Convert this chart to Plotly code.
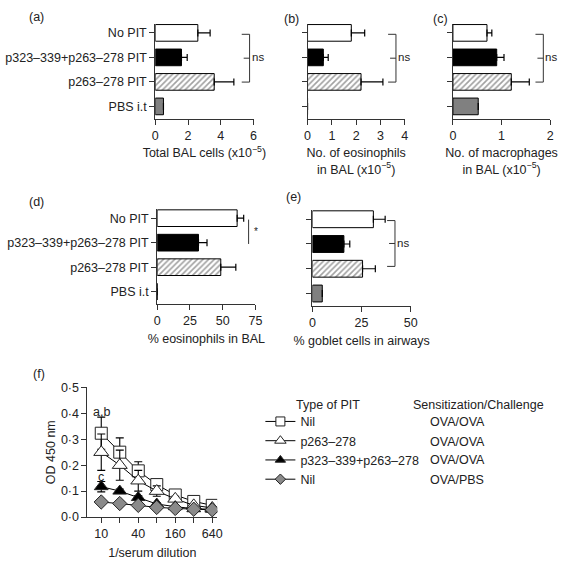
import plotly.graph_objects as go

W, H = 568, 564
FONT = "Liberation Sans, Arial, sans-serif"
TXT = "#222"

# ---------------- data ----------------
groups = ["No PIT", "p323–339+p263–278 PIT", "p263–278 PIT", "PBS i.t"]
group_pos = [3, 2, 1, 0]

total_bal = [2.6, 1.6, 3.6, 0.5]
total_bal_err = [0.75, 0.35, 1.2, None]
eos_no = [1.8, 0.65, 2.2, 0.0]
eos_no_err = [0.55, 0.2, 0.9, None]
mac_no = [0.7, 0.9, 1.2, 0.52]
mac_no_err = [0.1, 0.15, 0.37, None]
eos_pct = [61, 31.5, 48.5, 0]
eos_pct_err = [5, 6.5, 11.5, None]
goblet_pct = [31, 16, 25.5, 5]
goblet_pct_err = [6, 3, 6.5, None]

dilution = [10, 20, 40, 80, 160, 320, 640]
dilution_ticktext = ["10", "", "40", "", "160", "", "640"]
od_nil = [0.323, 0.25, 0.178, 0.125, 0.085, 0.06, 0.045]
od_nil_err = [0.062, 0.055, 0.035, 0.015, 0.008, 0.005, 0.004]
od_p263 = [0.25, 0.20, 0.14, 0.10, 0.07, 0.045, 0.035]
od_p263_err = [0.07, 0.058, 0.04, 0.02, 0.01, 0.006, 0.004]
od_p323 = [0.117, 0.10, 0.075, 0.05, 0.04, 0.032, 0.03]
od_p323_err = [0.02, 0.008, 0.008, 0.005, 0.004, 0.003, 0.003]
od_pbs = [0.058, 0.052, 0.045, 0.037, 0.033, 0.03, 0.028]
od_pbs_err = [0.004, 0.003, 0.003, 0.003, 0.002, 0.002, 0.002]
od_ticks = [0, 0.1, 0.2, 0.3, 0.4, 0.5]
od_ticktext = ["0·0", "0·1", "0·2", "0·3", "0·4", "0·5"]

series_f = [
    ("Nil", od_nil, od_nil_err, "square", "white", 12, "OVA/OVA"),
    ("p263–278", od_p263, od_p263_err, "triangle-up", "white", 13, "OVA/OVA"),
    ("p323–339+p263–278", od_p323, od_p323_err, "triangle-up", "black", 12, "OVA/OVA"),
    ("Nil", od_pbs, od_pbs_err, "diamond", "#8a8a8a", 11, "OVA/PBS"),
]

bar_colors = ["white", "black", "white", "#808080"]
bar_patterns = ["", "", "/", ""]


def fx(px):
    return px / W


def fy(py):
    return 1 - py / H


fig = go.Figure()

panels = [
    (1, total_bal, total_bal_err, [0, 6], [0, 2, 4, 6], "Total BAL cells (x10<sup>−5</sup>)", (155, 255), (17, 115), True),
    (2, eos_no, eos_no_err, [0, 4], [0, 1, 2, 3, 4], "No. of eosinophils<br>in BAL (x10<sup>−5</sup>)", (310, 409), (17, 115), False),
    (3, mac_no, mac_no_err, [0, 2], [0, 1, 2], "No. of macrophages<br>in BAL (x10<sup>−5</sup>)", (458, 557), (17, 115), False),
    (4, eos_pct, eos_pct_err, [0, 75], [0, 25, 50, 75], "% eosinophils in BAL", (157, 257), (207, 305), True),
    (5, goblet_pct, goblet_pct_err, [0, 50], [0, 25, 50], "% goblet cells in airways", (315, 415), (208, 307), False),
]

axis_common = dict(
    showline=True, linecolor="#333", linewidth=1, ticks="outside", ticklen=5,
    tickwidth=1, tickcolor="#333", showgrid=False, zeroline=False,
    tickfont=dict(family=FONT, size=12.5, color=TXT), fixedrange=True,
)

layout_axes = {}
for idx, vals, errs, xr, xt, title, xd, yd, showlab in panels:
    xa = "x" if idx == 1 else f"x{idx}"
    ya = "y" if idx == 1 else f"y{idx}"
    err_plus = [e if e is not None else float("nan") for e in errs]
    fig.add_trace(go.Bar(
        x=vals, y=group_pos, orientation="h", xaxis=xa, yaxis=ya, width=0.68,
        marker=dict(color=bar_colors, line=dict(color="black", width=1),
                    pattern=dict(shape=bar_patterns, fgcolor="#222", bgcolor="white", size=4, solidity=0.4)),
        error_x=dict(type="data", array=err_plus, arrayminus=[0] * 4, symmetric=False,
                     color="black", thickness=1.2, width=3.5),
        showlegend=False, hoverinfo="skip",
    ))
    xkey = "xaxis" if idx == 1 else f"xaxis{idx}"
    ykey = "yaxis" if idx == 1 else f"yaxis{idx}"
    layout_axes[xkey] = dict(
        axis_common, domain=[fx(xd[0]), fx(xd[1])], range=xr, tickvals=xt,
        anchor=ya, title=dict(text=title, font=dict(family=FONT, size=12.5, color=TXT), standoff=6),
    )
    layout_axes[ykey] = dict(
        axis_common, domain=[fy(yd[1]), fy(yd[0])], range=[-0.52, 3.38], tickvals=group_pos,
        ticktext=groups if showlab else [" "] * 4, anchor=xa,
    )

# ---------------- panel f ----------------
for name, vals, errs, sym, fill, size, sens in series_f:
    fig.add_trace(go.Scatter(
        x=dilution, y=vals, xaxis="x6", yaxis="y6", name=name, mode="lines+markers",
        line=dict(color="black", width=1),
        marker=dict(symbol=sym, size=size, color=fill, line=dict(color="#222", width=1)),
        error_y=dict(type="data", array=errs, color="black", thickness=1.1, width=4),
        hoverinfo="skip", showlegend=False,
    ))
    # legend-only entry with a smaller symbol (no data of its own)
    fig.add_trace(go.Scatter(
        x=[None], y=[None], xaxis="x6", yaxis="y6", name=name, mode="lines+markers",
        line=dict(color="black", width=1),
        marker=dict(symbol=sym, size=size - 3, color=fill, line=dict(color="#222", width=1)),
        hoverinfo="skip", showlegend=True,
    ))

layout_axes["xaxis6"] = dict(
    axis_common, type="log", domain=[fx(86), fx(218)], range=[0.776, 2.886],
    tickvals=dilution, ticktext=dilution_ticktext, anchor="y6",
    title=dict(text="1/serum dilution", font=dict(family=FONT, size=12.5, color=TXT), standoff=8),
)
layout_axes["yaxis6"] = dict(
    axis_common, domain=[fy(523), fy(390)], range=[0, 0.5], tickvals=od_ticks,
    ticktext=od_ticktext, anchor="x6",
    title=dict(text="OD 450 nm", font=dict(family=FONT, size=12.5, color=TXT), standoff=2),
)

annotations = []


def label(text, px, py, size=12.5, xanchor="left"):
    annotations.append(dict(text=text, x=fx(px), y=fy(py), xref="paper", yref="paper",
                            xanchor=xanchor, yanchor="middle", showarrow=False,
                            font=dict(family=FONT, size=size, color=TXT)))


for t, px, py in [("(a)", 24, 10), ("(b)", 284, 12), ("(c)", 436, 12),
                  ("(d)", 24, 200), ("(e)", 286, 195), ("(f)", 29, 376)]:
    label(t, px, py)

shapes = []


def seg(x0, y0, x1, y1, w=1):
    shapes.append(dict(type="line", xref="paper", yref="paper", x0=fx(x0), y0=fy(y0),
                       x1=fx(x1), y1=fy(y1), line=dict(color="#333", width=w)))


def bracket(xv, ytop, ybot, txt):
    seg(xv, ytop, xv, ybot)
    seg(xv - 8, ytop, xv, ytop)
    seg(xv - 8, ybot, xv, ybot)
    seg(xv - 6, (ytop + ybot) / 2, xv, (ytop + ybot) / 2)
    label(txt, xv, (ytop + ybot) / 2 - 1, size=11.5)


bracket(251, 28, 77, "ns")
bracket(400, 28, 77, "ns")
bracket(550, 28, 77, "ns")
bracket(399, 219, 266, "ns")
seg(250, 218, 250, 243)
label("*", 253, 230, size=10)

annotations.append(dict(text="a,b", x=1, y=0.405, xref="x6", yref="y6", showarrow=False,
                        yanchor="middle", font=dict(family=FONT, size=12.5, color=TXT)))
annotations.append(dict(text="c", x=1, y=0.155, xref="x6", yref="y6", showarrow=False,
                        yanchor="middle", font=dict(family=FONT, size=12.5, color=TXT)))

label("Type of PIT", 296, 408)
label("Sensitization/Challenge", 415, 408)
rows_py = [426, 446, 465, 485]
for (name, vals, errs, sym, fill, size, sens), py in zip(series_f, rows_py):
    label(sens, 433, py)

fig.update_layout(
    width=W, height=H, margin=dict(l=0, r=0, t=0, b=0),
    paper_bgcolor="white", plot_bgcolor="white",
    font=dict(family=FONT, size=12.5, color=TXT),
    barmode="overlay",
    showlegend=True,
    legend=dict(x=fx(262), y=fy(410), xanchor="left", yanchor="top",
                font=dict(family=FONT, size=12.5, color=TXT), itemwidth=30,
                bgcolor="rgba(0,0,0,0)", tracegroupgap=0),
    annotations=annotations, shapes=shapes,
    **layout_axes,
)

fig.write_html("out.html", config={"displayModeBar": False},
               post_script="document.body.style.margin='0';document.body.style.overflow='hidden';")
